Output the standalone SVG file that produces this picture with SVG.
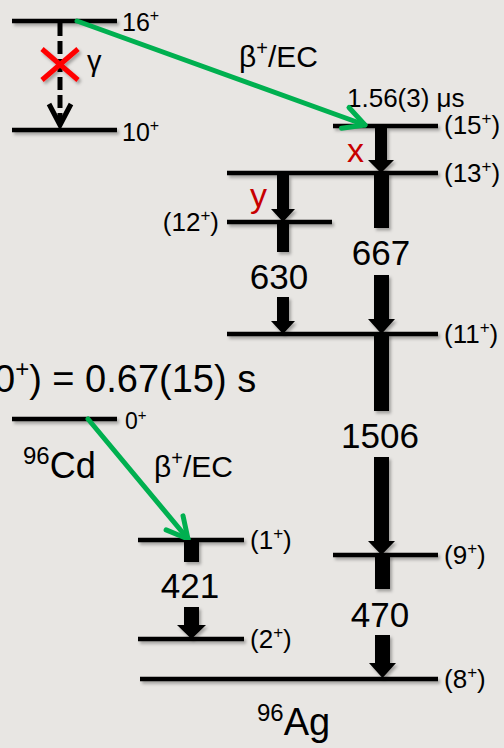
<svg xmlns="http://www.w3.org/2000/svg" width="504" height="748" viewBox="0 0 504 748">
<defs>
<filter id="sh" filterUnits="userSpaceOnUse" x="-10" y="-10" width="524" height="768">
<feDropShadow dx="2" dy="2.5" stdDeviation="1.5" flood-color="#000" flood-opacity="0.3"/>
</filter>
<marker id="gh" markerUnits="userSpaceOnUse" markerWidth="40" markerHeight="40" viewBox="-30 -20 40 40" refX="0" refY="0" orient="auto" overflow="visible">
<path d="M-21,-11 L0,0 L-21,11" fill="none" stroke="#00B050" stroke-width="5" stroke-linecap="round" stroke-linejoin="round"/>
</marker>
<style>
.lvl{stroke:#000;stroke-width:4.5;filter:url(#sh)}
.t{font-family:"Liberation Sans",Arial,sans-serif;fill:#000}
.lab{font-size:26px}
.num{font-size:35px;text-anchor:middle}
.g{fill:#000;filter:url(#sh)}
.beta{stroke:#00B050;stroke-width:5;fill:none;stroke-linecap:round;marker-end:url(#gh)}
.red{font-family:"Liberation Sans",Arial,sans-serif;fill:#C80000;font-size:34px}
</style>
</defs>
<rect width="504" height="748" fill="#E8E6E3"/>

<!-- Left decay scheme -->
<g id="lvl16">
<line class="lvl" x1="12" y1="21" x2="117" y2="21"/>
<text class="t" x="122" y="31" font-size="25">16<tspan font-size="16" dy="-10">+</tspan></text>
</g>
<g id="lvl10">
<line class="lvl" x1="12" y1="130" x2="117" y2="130"/>
<text class="t" x="122" y="141" font-size="25">10<tspan font-size="16" dy="-10">+</tspan></text>
</g>

<!-- 96Ag levels -->
<g id="lvl15">
<line class="lvl" x1="333" y1="126" x2="438" y2="126"/>
<text class="t lab" x="444" y="134">(15<tspan font-size="17" dy="-10">+</tspan><tspan dy="10">)</tspan></text>
<text class="t" x="347" y="107" font-size="26">1.56(3) μs</text>
</g>
<g id="lvl13">
<line class="lvl" x1="227" y1="173" x2="438" y2="173"/>
<text class="t lab" x="444" y="182">(13<tspan font-size="17" dy="-10">+</tspan><tspan dy="10">)</tspan></text>
</g>
<g id="lvl12">
<line class="lvl" x1="227" y1="222" x2="332" y2="222"/>
<text class="t lab" x="219" y="231" text-anchor="end">(12<tspan font-size="17" dy="-10">+</tspan><tspan dy="10">)</tspan></text>
</g>
<g id="lvl11">
<line class="lvl" x1="227" y1="334" x2="438" y2="334"/>
<text class="t lab" x="444" y="343">(11<tspan font-size="17" dy="-10">+</tspan><tspan dy="10">)</tspan></text>
</g>
<g id="lvl9">
<line class="lvl" x1="333" y1="555" x2="438" y2="555"/>
<text class="t lab" x="444" y="564">(9<tspan font-size="17" dy="-10">+</tspan><tspan dy="10">)</tspan></text>
</g>
<g id="lvl8">
<line class="lvl" x1="140" y1="679" x2="438" y2="679"/>
<text class="t lab" x="444" y="688">(8<tspan font-size="17" dy="-10">+</tspan><tspan dy="10">)</tspan></text>
</g>
<g id="lvl1">
<line class="lvl" x1="138" y1="540" x2="244" y2="540"/>
<text class="t lab" x="250" y="549">(1<tspan font-size="17" dy="-10">+</tspan><tspan dy="10">)</tspan></text>
</g>
<g id="lvl2">
<line class="lvl" x1="138" y1="639" x2="244" y2="639"/>
<text class="t lab" x="250" y="648">(2<tspan font-size="17" dy="-10">+</tspan><tspan dy="10">)</tspan></text>
</g>
<g id="ag-label">
<text class="t" x="257" y="735" font-size="38"><tspan font-size="24" dy="-14">96</tspan><tspan dy="14">Ag</tspan></text>
</g>

<!-- 96Cd -->
<g id="cd0">
<line class="lvl" x1="12" y1="419" x2="117" y2="419"/>
<text class="t" x="125" y="429" font-size="23">0<tspan font-size="15" dy="-9">+</tspan></text>
<text class="t" x="23" y="478" font-size="36"><tspan font-size="24" dy="-14">96</tspan><tspan dy="14">Cd</tspan></text>
<text class="t" x="-6" y="392" font-size="38">0<tspan font-size="24" dy="-15">+</tspan><tspan dy="15">) = 0.67(15) s</tspan></text>
</g>

<g id="connectors">
<!-- forbidden gamma -->
<line x1="60" y1="23" x2="60" y2="122" stroke="#000" stroke-width="5" stroke-dasharray="13 5"/>
<path d="M49,104 L60,125 L71,104" fill="none" stroke="#000" stroke-width="5" stroke-linejoin="miter"/>
<g filter="url(#sh)">
<line x1="42" y1="49" x2="78" y2="80" stroke="#FF0000" stroke-width="5"/>
<line x1="78" y1="49" x2="42" y2="80" stroke="#FF0000" stroke-width="5"/>
</g>
<text class="t" x="87" y="71" font-size="29">γ</text>

<!-- beta decays -->
<line class="beta" x1="77" y1="21" x2="365" y2="125"/>
<text class="t" x="239" y="67" font-size="30">β<tspan font-size="20" dy="-12">+</tspan><tspan dy="12">/EC</tspan></text>
<line class="beta" x1="88" y1="419" x2="188" y2="539"/>
<text class="t" x="154" y="477" font-size="30">β<tspan font-size="20" dy="-12">+</tspan><tspan dy="12">/EC</tspan></text>

<!-- x: 15 -> 13 -->
<path class="g" d="M375,128 H387 V160 H394 L381,173 L368,160 H375 Z"/>
<text class="red" x="347" y="162">x</text>
<!-- y: 13 -> 12 -->
<path class="g" d="M277,175 H289 V209 H295 L283,222 L271,209 H277 Z"/>
<text class="red" x="250" y="207">y</text>
<!-- 630: 12 -> 11 -->
<rect class="g" x="277" y="222" width="12" height="30"/>
<path class="g" d="M277,297 H289 V321 H295 L283,334 L271,321 H277 Z"/>
<text class="t num" x="279" y="289">630</text>
<!-- 667: 13 -> 11 -->
<rect class="g" x="374" y="173" width="15" height="55"/>
<path class="g" d="M374,275 H389 V319 H395 L381.5,334 L368,319 H374 Z"/>
<text class="t num" x="381" y="265">667</text>
<!-- 1506: 11 -> 9 -->
<rect class="g" x="374" y="334" width="15" height="77"/>
<path class="g" d="M374,457 H389 V541 H395 L381.5,555 L368,541 H374 Z"/>
<text class="t num" x="380" y="448">1506</text>
<!-- 470: 9 -> 8 -->
<rect class="g" x="375" y="555" width="15" height="34"/>
<path class="g" d="M375,635 H390 V663 H396 L382.5,678 L369,663 H375 Z"/>
<text class="t num" x="380" y="627">470</text>
<!-- 421: 1 -> 2 -->
<rect class="g" x="184" y="540" width="15" height="22"/>
<path class="g" d="M184,607 H199 V625 H206 L191.5,639 L177,625 H184 Z"/>
<text class="t num" x="190" y="598">421</text>
</g>
</svg>
